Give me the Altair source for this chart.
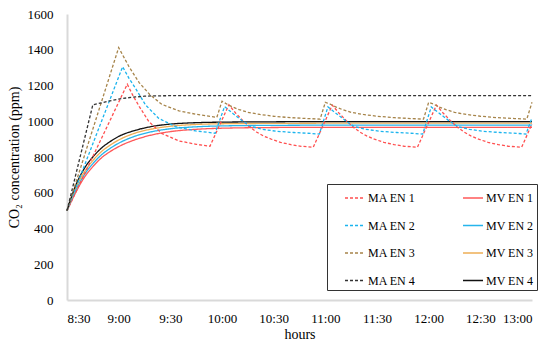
import altair as alt
import pandas as pd

SERIES = ["MA EN 1", "MA EN 2", "MA EN 3", "MA EN 4",
          "MV EN 1", "MV EN 2", "MV EN 3", "MV EN 4"]
COLORS = ["#FF4F4F", "#1BB4EE", "#A6844A", "#333333",
          "#FF5A5A", "#26B5EC", "#EEAE55", "#111111"]
DASHES = [[3, 2], [3, 2], [3, 2], [3, 2], [1, 0], [1, 0], [1, 0], [1, 0]]

X_TICKS = [0, 30, 60, 90, 120, 150, 180, 210, 240, 270]
X_TICK_LABELS = ["8:30", "9:00", "9:30", "10:00", "10:30",
                 "11:00", "11:30", "12:00", "12:30", "13:00"]
Y_TICKS = [0, 200, 400, 600, 800, 1000, 1200, 1400, 1600]

# minutes after 8:30
T_MV = [0, 5, 10, 15, 20, 25, 30, 40, 50, 60, 75, 90, 120, 150, 180, 210, 240, 270]
MV1 = [500, 600, 685, 746, 795, 830, 858, 898, 925, 942, 955, 961, 965, 966, 966, 966, 966, 966]
MV2 = [500, 612, 700, 763, 812, 848, 877, 918, 943, 958, 969, 974, 977, 978, 978, 978, 978, 978]
MV3 = [500, 625, 715, 780, 830, 866, 895, 935, 958, 972, 982, 986, 988, 989, 989, 989, 989, 989]
MV4 = [500, 640, 735, 800, 850, 886, 915, 950, 972, 984, 992, 995, 997, 998, 998, 998, 998, 998]

MA1_T = [0, 35, 38.5, 42, 47.5, 55, 65, 75, 83,
         94, 98, 102, 106, 110, 114, 119, 124, 130, 136, 143,
         154, 158, 162, 166, 170, 174, 179, 184, 190, 196, 203.5,
         214.5, 218.5, 222.5, 226.5, 230.5, 234.5, 239.5, 244.5, 250.5, 256.5, 264,
         270]
MA1_V = [500, 1207, 1140, 1082, 998, 932, 890, 871, 860,
         1092, 1045, 1005, 968, 940, 918, 898, 882, 869, 860, 855,
         1090, 1045, 1005, 968, 940, 918, 898, 882, 869, 860, 855,
         1090, 1045, 1005, 968, 940, 918, 898, 882, 869, 860, 855,
         985]

MA2_T = [0, 32.3, 36, 39.8, 45.6, 53.3, 63, 74.7, 86,
         91.5, 96.5, 101.5, 106.5, 113.5, 121.5, 131.5, 141.5, 146.5,
         151.5, 156.5, 161.5, 166.5, 173.5, 181.5, 191.5, 201.5, 206.5,
         211.5, 216.5, 221.5, 226.5, 233.5, 241.5, 251.5, 261.5, 266.5,
         270]
MA2_V = [500, 1305, 1240, 1184, 1091, 1016, 970, 946, 933,
         1082, 1042, 1005, 972, 955, 944, 937, 932, 928,
         1080, 1042, 1005, 972, 955, 944, 937, 932, 928,
         1080, 1042, 1005, 972, 955, 944, 937, 932, 928,
         1020]

MA3_T = [0, 30, 36, 42, 48, 55, 65, 75, 87,
         90, 93, 96, 100, 105, 112, 120, 130, 140, 147,
         150, 153, 156, 160, 165, 172, 180, 190, 200, 207,
         210, 213, 216, 220, 225, 232, 240, 250, 260, 267,
         270]
MA3_V = [500, 1412, 1305, 1215, 1150, 1095, 1058, 1039, 1022,
         1112, 1095, 1080, 1065, 1050, 1038, 1028, 1020, 1015, 1012,
         1106, 1095, 1080, 1065, 1050, 1038, 1028, 1020, 1015, 1012,
         1106, 1095, 1080, 1065, 1050, 1038, 1028, 1020, 1015, 1012,
         1106]

MA4_T = [0, 15, 20, 25, 30, 35, 40, 45, 50, 60, 270]
MA4_V = [500, 1092, 1103, 1114, 1124, 1131, 1136, 1140, 1142, 1143, 1143]

rows = []
for name, ts, vs in [("MV EN 1", T_MV, MV1), ("MV EN 2", T_MV, MV2),
                     ("MV EN 3", T_MV, MV3), ("MV EN 4", T_MV, MV4),
                     ("MA EN 1", MA1_T, MA1_V), ("MA EN 2", MA2_T, MA2_V),
                     ("MA EN 3", MA3_T, MA3_V), ("MA EN 4", MA4_T, MA4_V)]:
    for t, v in zip(ts, vs):
        rows.append({"series": name, "t": t, "v": v})
df = pd.DataFrame(rows)

FONT = "Liberation Serif, DejaVu Serif, serif"
label_expr = "[" + ",".join("'%s'" % s for s in X_TICK_LABELS) + "][round(datum.value/30)]"

legend = alt.Legend(
    title=None, orient="none", legendX=260, legendY=170, columns=2,
    symbolType="stroke", symbolSize=400, symbolStrokeWidth=1.5,
    labelFont=FONT, labelFontSize=12, labelColor="black", labelOffset=2,
    rowPadding=10.5, columnPadding=32, symbolOffset=14, padding=3,
    strokeColor="#333333", fillColor="white",
)

base = alt.Chart(df).encode(
    x=alt.X("t:Q", scale=alt.Scale(domain=[0, 270], nice=False, zero=False),
            axis=alt.Axis(values=X_TICKS, labelExpr=label_expr, title="hours",
                          labelPadding=12, titlePadding=2)),
    y=alt.Y("v:Q", scale=alt.Scale(domain=[0, 1600], nice=False),
            axis=alt.Axis(values=Y_TICKS, format="d", title="CO₂ concentration (ppm)",
                          labelPadding=14, titlePadding=6)),
    color=alt.Color("series:N", scale=alt.Scale(domain=SERIES, range=COLORS), legend=legend),
    strokeDash=alt.StrokeDash("series:N", scale=alt.Scale(domain=SERIES, range=DASHES), legend=legend),
)

mv = base.transform_filter(
    alt.FieldOneOfPredicate(field="series", oneOf=["MV EN 1", "MV EN 2", "MV EN 3", "MV EN 4"])
).mark_line(strokeWidth=1.3, interpolate="monotone")
ma = base.transform_filter(
    alt.FieldOneOfPredicate(field="series", oneOf=["MA EN 1", "MA EN 2", "MA EN 3", "MA EN 4"])
).mark_line(strokeWidth=1.3)

chart = alt.layer(mv, ma).properties(
    width=465, height=286,
    padding={"left": 59, "top": 6, "right": 8, "bottom": 41},
    autosize=alt.AutoSizeParams(type="none"),
    background="white",
).configure(font=FONT).configure_view(stroke=None).configure_axis(
    grid=False, ticks=False, tickSize=0,
    domainColor="#D9D9D9", domainWidth=2,
    labelFont=FONT, labelFontSize=13, labelColor="black",
    titleFont=FONT, titleFontSize=14, titleColor="black", titleFontWeight="normal",
)

chart.save("out.html", embed_options={"renderer": "svg", "actions": False})
